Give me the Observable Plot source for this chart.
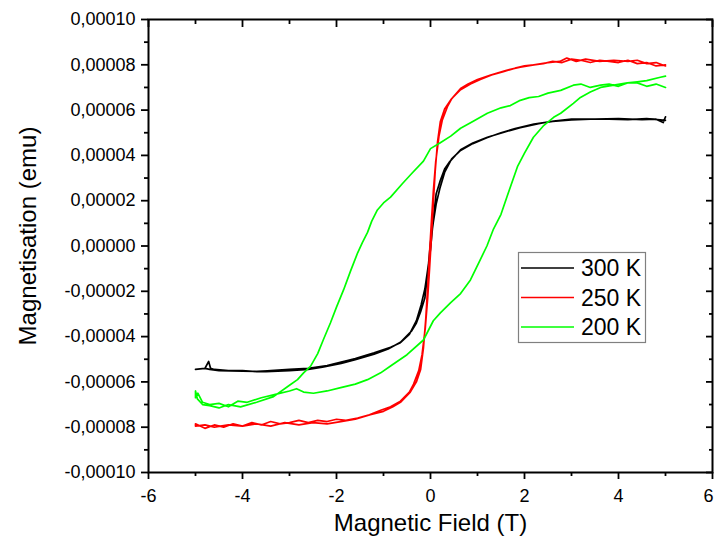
<!DOCTYPE html>
<html><head><meta charset="utf-8">
<script src="https://cdn.jsdelivr.net/npm/d3@7"></script>
<script src="https://cdn.jsdelivr.net/npm/@observablehq/plot@0.6"></script>
<style>
html,body{margin:0;padding:0;background:#fff;}
#chart svg{display:block;}
</style></head><body><div id="chart"></div>
<script>
// ---- axis ticks ----
const xMajor = [-6, -4, -2, 0, 2, 4, 6];
const xMinor = [-5, -3, -1, 1, 3, 5];
const yMajor = [-0.0001, -0.00008, -0.00006, -0.00004, -0.00002, 0, 0.00002, 0.00004, 0.00006, 0.00008, 0.0001];
const yMinor = [-0.00009, -0.00007, -0.00005, -0.00003, -0.00001, 0.00001, 0.00003, 0.00005, 0.00007, 0.00009];
const xTitle = "Magnetic Field (T)";
const yTitle = "Magnetisation (emu)";
const seriesNames = ["300 K", "250 K", "200 K"];
const seriesColors = ["#000000", "#ff0000", "#00ff00"];
const magUnit = 1e-5; // magnetisation values below are in units of 1e-5 emu

// ---- 300 K ----
const field300Down = [5.0,4.6,4.2,3.8,3.4,3.0,2.6,2.2,1.8,1.5,1.2,0.9,0.64,0.45,0.3,0.2,0.12,0.06,0.0,-0.06,-0.12,-0.21,-0.3,-0.4,-0.64,-0.9,-1.2,-1.6,-1.9,-2.3,-2.6,-3.0,-3.5,-4.0,-4.5,-4.7,-4.8,-5.0];
const mag300Down   = [5.55,5.62,5.58,5.6,5.6,5.57,5.5,5.38,5.18,5.0,4.78,4.52,4.22,3.85,3.25,2.55,1.85,1.05,0.15,-1.2,-2.3,-2.9,-3.4,-3.75,-4.25,-4.55,-4.78,-5.02,-5.18,-5.35,-5.45,-5.5,-5.55,-5.52,-5.5,-5.45,-5.4,-5.45];
const field300Up = [-5.0,-4.8,-4.72,-4.68,-4.6,-4.3,-4.0,-3.7,-3.4,-3.0,-2.6,-2.2,-1.9,-1.6,-1.2,-0.85,-0.64,-0.45,-0.3,-0.2,-0.12,-0.06,0.0,0.06,0.12,0.21,0.3,0.4,0.64,0.9,1.21,1.6,1.91,2.3,2.62,3.0,3.5,4.0,4.5,4.8,4.95,5.0];
const mag300Up   = [-5.45,-5.4,-5.1,-5.4,-5.45,-5.5,-5.5,-5.55,-5.5,-5.45,-5.4,-5.28,-5.12,-4.97,-4.72,-4.47,-4.27,-3.9,-3.3,-2.6,-1.9,-1.05,-0.15,1.2,2.3,2.9,3.4,3.7,4.25,4.55,4.8,5.05,5.22,5.4,5.52,5.6,5.6,5.62,5.58,5.6,5.45,5.7];

// ---- 250 K ----
const field250Down = [5.0,4.8,4.6,4.4,4.2,4.0,3.8,3.6,3.4,3.2,3.0,2.8,2.6,2.4,2.2,2.0,1.8,1.55,1.3,1.06,0.85,0.64,0.45,0.36,0.25,0.18,0.11,0.06,0.02,-0.02,-0.06,-0.1,-0.15,-0.21,-0.3,-0.43,-0.64,-0.8,-1.0,-1.28,-1.6,-1.91,-2.2,-2.5,-2.8,-3.1,-3.4,-3.7,-4.0,-4.3,-4.6,-4.8,-5.0];
const mag250Down   = [8.0,7.95,8.1,8.05,8.2,8.1,8.15,8.2,8.1,8.2,8.25,8.1,8.15,8.05,8.0,7.95,7.85,7.7,7.55,7.35,7.15,6.9,6.5,6.15,5.55,4.85,3.7,2.4,1.1,-0.3,-1.8,-3.2,-4.5,-5.45,-6.0,-6.45,-6.9,-7.1,-7.3,-7.45,-7.65,-7.75,-7.85,-7.8,-7.9,-7.8,-7.95,-7.85,-7.95,-7.9,-8.0,-7.9,-7.95];
const field250Up = [-5.0,-4.8,-4.6,-4.4,-4.2,-4.0,-3.8,-3.6,-3.4,-3.2,-3.0,-2.8,-2.6,-2.4,-2.2,-2.0,-1.8,-1.55,-1.3,-1.06,-0.85,-0.64,-0.45,-0.36,-0.25,-0.18,-0.11,-0.06,-0.02,0.02,0.06,0.1,0.15,0.21,0.3,0.43,0.64,0.8,1.0,1.28,1.6,1.91,2.2,2.5,2.75,2.9,3.1,3.3,3.6,3.9,4.2,4.4,4.6,4.8,5.0];
const mag250Up   = [-7.85,-8.05,-7.9,-8.0,-7.85,-7.95,-7.8,-7.9,-7.75,-7.85,-7.8,-7.7,-7.8,-7.7,-7.75,-7.65,-7.7,-7.6,-7.45,-7.25,-7.1,-6.85,-6.45,-6.1,-5.5,-4.8,-3.6,-2.3,-1.0,0.4,1.9,3.3,4.6,5.5,6.05,6.45,6.95,7.15,7.35,7.55,7.75,7.9,8.0,8.1,8.15,8.3,8.15,8.25,8.15,8.2,8.15,8.2,8.05,8.1,7.95];

// ---- 200 K ----
const field200Down = [5.0,4.8,4.6,4.4,4.19,4.0,3.8,3.62,3.4,3.2,3.04,2.77,2.5,2.3,2.1,1.91,1.7,1.5,1.21,0.9,0.64,0.43,0.2,0.0,-0.15,-0.4,-0.6,-0.85,-1.0,-1.13,-1.25,-1.34,-1.45,-1.55,-1.7,-1.85,-2.0,-2.13,-2.28,-2.4,-2.55,-2.7,-2.83,-3.0,-3.34,-3.7,-4.04,-4.3,-4.5,-4.7,-4.85,-4.96,-5.0];
const mag200Down   = [7.0,7.15,7.05,7.2,7.2,7.05,7.15,7.1,7.0,7.15,7.1,6.87,6.75,6.6,6.55,6.43,6.2,6.1,5.86,5.5,5.2,4.85,4.55,4.3,3.75,3.2,2.75,2.16,1.9,1.59,1.1,0.6,0.15,-0.3,-1.1,-1.94,-2.7,-3.4,-4.14,-4.75,-5.3,-5.6,-5.9,-6.15,-6.65,-6.9,-7.1,-7.0,-7.15,-7.05,-7.0,-6.75,-6.4];
const field200Up = [-5.0,-4.95,-4.85,-4.7,-4.5,-4.3,-4.1,-3.9,-3.6,-3.3,-3.0,-2.85,-2.7,-2.49,-2.2,-1.91,-1.6,-1.34,-1.06,-0.85,-0.5,-0.15,0.06,0.21,0.43,0.64,0.85,1.06,1.2,1.34,1.5,1.64,1.85,2.0,2.19,2.4,2.62,2.77,3.04,3.19,3.4,3.62,3.9,4.19,4.4,4.6,4.89,5.0];
const mag200Up   = [-6.7,-6.5,-6.9,-7.0,-6.95,-7.1,-6.85,-6.9,-6.7,-6.55,-6.4,-6.3,-6.45,-6.5,-6.4,-6.25,-6.1,-5.9,-5.6,-5.3,-4.8,-4.15,-3.3,-2.95,-2.5,-2.1,-1.5,-0.6,0.0,0.75,1.4,2.25,3.5,4.1,4.8,5.3,5.68,5.86,6.3,6.56,6.8,7.0,7.1,7.2,7.25,7.3,7.45,7.5];

// ---- build table ----
const loops = [
  {name: "300 K", fields: [field300Down, field300Up], mags: [mag300Down, mag300Up]},
  {name: "250 K", fields: [field250Down, field250Up], mags: [mag250Down, mag250Up]},
  {name: "200 K", fields: [field200Down, field200Up], mags: [mag200Down, mag200Up]}
];
const rows = [];
for (const l of loops) {
  l.fields.forEach((fs, b) => fs.forEach((f, i) => rows.push({series: l.name, x: f, y: l.mags[b][i] * magUnit})));
}

const fmtY = d => d3.format(".5f")(d).replace("\u2212", "-").replace(".", ",");
const lastX = xMajor[xMajor.length - 1];
const fmtX = d => (d === lastX ? "" : String(d));
const blank = () => "";
const tickW = 1.8;
const FONT = "'Liberation Sans', Arial, sans-serif";

const chart = Plot.plot({
  width: 715, height: 547,
  marginLeft: 148, marginRight: 3, marginTop: 19, marginBottom: 75,
  style: {fontFamily: FONT, background: "white", color: "black"},
  x: {domain: [-6, 6], label: null},
  y: {domain: [-0.0001, 0.0001], label: null},
  color: {domain: seriesNames, range: seriesColors},
  marks: [
    Plot.line(rows, {x: "x", y: "y", stroke: "series", strokeWidth: 1.7}),
    Plot.axisX(xMajor, {anchor: "bottom", tickSize: 7, tickPadding: 10, tickFormat: fmtX, fontSize: 18, label: null, strokeWidth: tickW}),
    Plot.axisX([lastX], {anchor: "bottom", tickSize: 0, tickPadding: 17, tickFormat: d => String(d), textAnchor: "end", dx: 1, fontSize: 18, label: null, strokeWidth: 0}),
    Plot.axisX(xMinor, {anchor: "bottom", tickSize: 4, tickFormat: blank, label: null, strokeWidth: tickW}),
    Plot.axisX(xMajor, {anchor: "top", tickSize: 7, dy: 7, tickFormat: blank, label: null, strokeWidth: tickW}),
    Plot.axisX(xMinor, {anchor: "top", tickSize: 4, dy: 4, tickFormat: blank, label: null, strokeWidth: tickW}),
    Plot.axisY(yMajor, {anchor: "left", tickSize: 7, tickPadding: 6, tickFormat: fmtY, fontSize: 18, label: null, strokeWidth: tickW}),
    Plot.axisY(yMinor, {anchor: "left", tickSize: 4, tickFormat: blank, label: null, strokeWidth: tickW}),
    Plot.axisY(yMajor, {anchor: "right", tickSize: 7, dx: -7, tickFormat: blank, label: null, strokeWidth: tickW}),
    Plot.axisY(yMinor, {anchor: "right", tickSize: 4, dx: -4, tickFormat: blank, label: null, strokeWidth: tickW}),
    Plot.frame({stroke: "black", strokeWidth: 2}),
    Plot.text([xTitle], {frameAnchor: "bottom", dy: 58, fontSize: 24, textAnchor: "middle"}),
    Plot.text([yTitle], {frameAnchor: "left", dx: -120, dy: -10, rotate: -90, fontSize: 24, textAnchor: "middle"})
  ]
});
document.getElementById("chart").appendChild(chart);

// ---- legend ----
const svg = d3.select(chart);
const lg = svg.append("g").attr("font-family", FONT).attr("text-anchor", "start");
lg.append("rect").attr("x", 518.5).attr("y", 252.5).attr("width", 127).attr("height", 90)
  .attr("fill", "white").attr("stroke", "#808080").attr("stroke-width", 1.2);
seriesNames.forEach((s, i) => {
  const yy = 268 + i * 29.5;
  lg.append("line").attr("x1", 521).attr("x2", 574).attr("y1", yy).attr("y2", yy)
    .attr("stroke", seriesColors[i]).attr("stroke-width", 1.6);
  lg.append("text").attr("x", 581).attr("y", yy).attr("dy", "0.36em").attr("font-size", 23)
    .attr("text-anchor", "start").attr("fill", "black").text(s);
});
</script></body></html>
